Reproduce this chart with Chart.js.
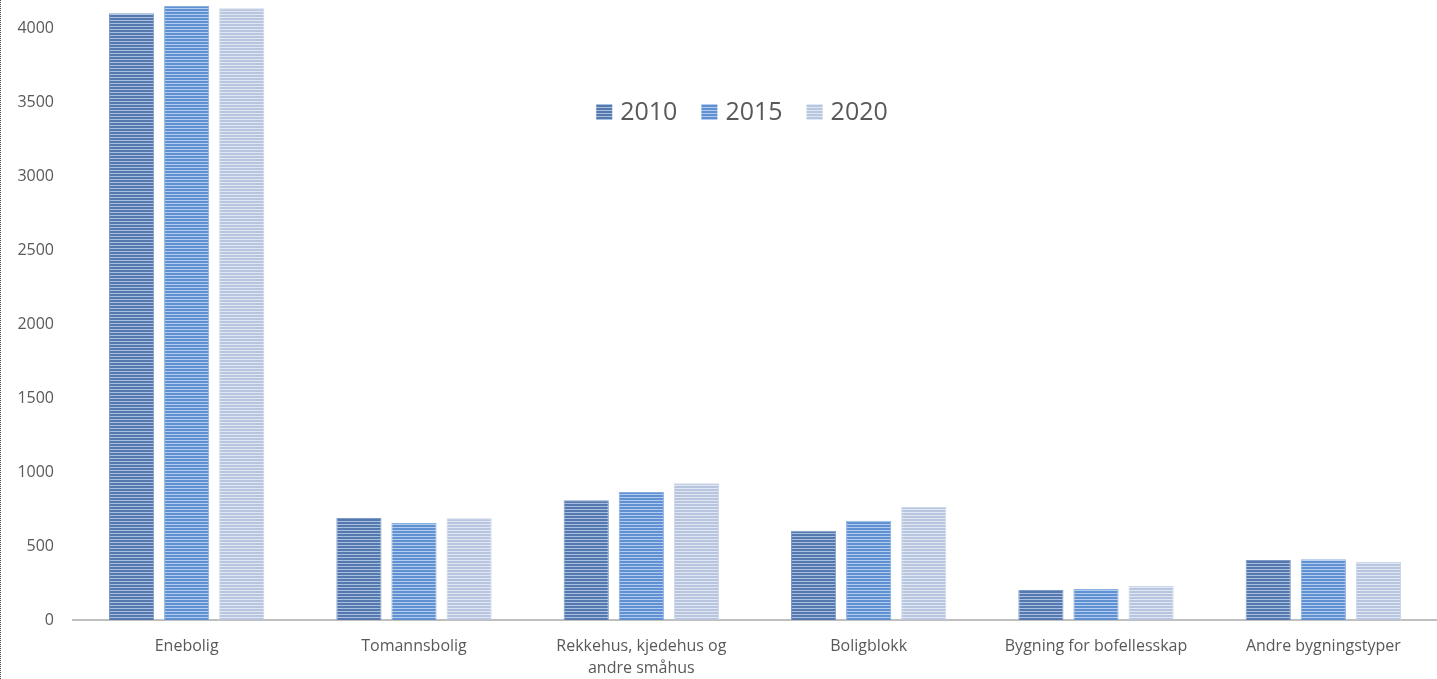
<!DOCTYPE html>
<html>
<head>
<meta charset="utf-8">
<script src="https://cdn.jsdelivr.net/npm/chart.js@4"></script>
<style>
  html, body { margin: 0; padding: 0; background: #fff; }
  #wrap { width: 1436px; height: 679px; border-left: 1px dotted #444; }
</style>
</head>
<body>
<div id="wrap"><canvas id="chart" width="1436" height="679"></canvas></div>
<script>
const CATEGORIES = [
  "Enebolig",
  "Tomannsbolig",
  ["Rekkehus, kjedehus og", "andre småhus"],
  "Boligblokk",
  "Bygning for bofellesskap",
  "Andre bygningstyper",
];
const YEARS = ["2010", "2015", "2020"];
const VALUES_2010 = [4100, 690, 810, 604, 203, 405];
const VALUES_2015 = [4150, 655, 865, 670, 210, 410];
const VALUES_2020 = [4135, 688, 925, 763, 230, 392];
const Y_TICKS = [0, 500, 1000, 1500, 2000, 2500, 3000, 3500, 4000];

const TEXT = "#595959";
const FONT = "'Open Sans', sans-serif";

const canvas = document.getElementById("chart");
const ctx = canvas.getContext("2d");

// horizontal stripe fill like the original bars
function stripes(base, light) {
  const c = document.createElement("canvas");
  c.width = 4;
  c.height = 3;
  const g = c.getContext("2d");
  g.fillStyle = base;
  g.fillRect(0, 0, 4, 3);
  g.fillStyle = light;
  g.fillRect(0, 2, 4, 1);
  return ctx.createPattern(c, "repeat");
}

const FILLS = [
  stripes("#5579ae", "#a9bfdf"),
  stripes("#5f90d1", "#b2cbee"),
  stripes("#b7c5df", "#e0e7f3"),
];
const EDGES = ["#7d9bc8", "#88aee0", "#ccd7ea"];

const legendInside = {
  id: "legendInside",
  afterDraw(chart) {
    const c = chart.ctx;
    c.save();
    c.font = "25px " + FONT;
    c.textBaseline = "middle";
    const box = 16, gap = 8, between = 24;
    const widths = YEARS.map((y) => c.measureText(y).width);
    const total = widths.reduce((a, w) => a + box + gap + w, 0) + between * (YEARS.length - 1);
    let x = 741 - total / 2;
    const y = 112;
    YEARS.forEach((label, i) => {
      c.fillStyle = FILLS[i];
      c.fillRect(x, y - box / 2, box, box);
      c.fillStyle = TEXT;
      c.fillText(label, x + box + gap, y + 1);
      x += box + gap + widths[i] + between;
    });
    c.restore();
  },
};

new Chart(canvas, {
  type: "bar",
  data: {
    labels: CATEGORIES,
    datasets: [VALUES_2010, VALUES_2015, VALUES_2020].map((d, i) => ({
      label: YEARS[i],
      data: d,
      backgroundColor: FILLS[i],
      borderColor: EDGES[i],
      borderWidth: 1,
      categoryPercentage: 0.727,
      barPercentage: 0.82,
    })),
  },
  options: {
    responsive: false,
    animation: false,
    layout: { padding: 0 },
    plugins: {
      legend: { display: false },
      tooltip: { enabled: false },
    },
    scales: {
      x: {
        grid: { display: false, drawTicks: false },
        border: { display: true, color: "#bfbfbf", width: 2 },
        ticks: {
          color: TEXT,
          font: { family: FONT, size: 16, lineHeight: 1.375 },
          padding: 15,
          maxRotation: 0,
          autoSkip: false,
        },
        afterFit(scale) {
          scale.height = 59;
        },
      },
      y: {
        min: 0,
        max: 4190,
        grid: { display: false, drawTicks: false },
        border: { display: false },
        ticks: {
          color: TEXT,
          font: { family: FONT, size: 16 },
          padding: 19,
          callback: (v) => String(v),
        },
        afterBuildTicks(scale) {
          scale.ticks = Y_TICKS.map((v) => ({ value: v }));
        },
        afterFit(scale) {
          scale.width = 72;
          scale.paddingTop = 0;
          scale.paddingBottom = 0;
        },
      },
    },
  },
  plugins: [legendInside],
});
</script>
</body>
</html>
